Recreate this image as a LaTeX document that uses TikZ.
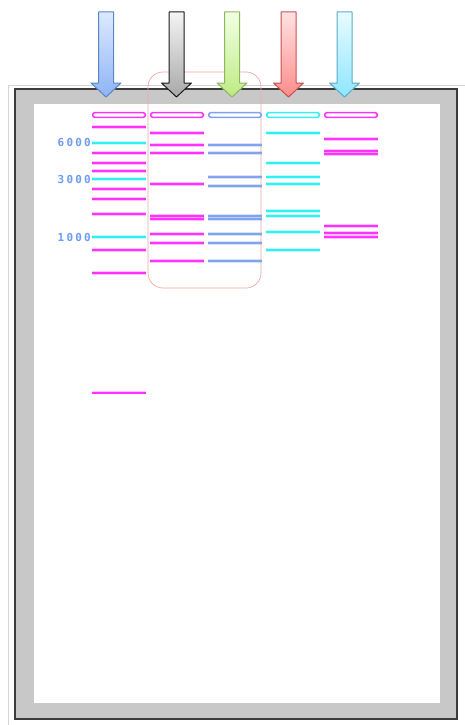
\documentclass[tikz,border=0pt]{standalone}
\usepackage{fontspec}
\newfontfamily\lblfont{DejaVu Sans Mono}
\definecolor{bandM}{HTML}{FF33FF}
\definecolor{bandC}{HTML}{33F0F0}
\definecolor{bandB}{HTML}{7FA3EE}
\definecolor{frameG}{HTML}{C8C8C8}
\definecolor{frameD}{HTML}{3C3C3C}
\definecolor{outerL}{HTML}{D4D4D4}
\definecolor{lblB}{HTML}{6E9CF0}
\definecolor{hilite}{HTML}{F0A8A8}
\definecolor{abT}{HTML}{DDE9FF}\definecolor{abB}{HTML}{8DB4F5}\definecolor{abD}{HTML}{5A86C8}
\definecolor{akT}{HTML}{F4F4F4}\definecolor{akB}{HTML}{A8A8A8}\definecolor{akD}{HTML}{1A1A1A}
\definecolor{agT}{HTML}{F2FFE4}\definecolor{agB}{HTML}{BDEB85}\definecolor{agD}{HTML}{8DB85A}
\definecolor{arT}{HTML}{FFE2E2}\definecolor{arB}{HTML}{FF8C8C}\definecolor{arD}{HTML}{C85050}
\definecolor{acT}{HTML}{E8FBFF}\definecolor{acB}{HTML}{8EE6FF}\definecolor{acD}{HTML}{5AAACB}
\newcommand\lsp{\kern2.2pt}
\newcommand\gelband[3]{%
  \draw[bandglow,draw=#3] (#1,#2) -- ++(54,0);
  \draw[bandcore,draw=#3] (#1,#2) -- ++(54,0);}
\newcommand\gelwell[2]{%
  \draw[wellbox,draw=#2] ({#1+0.8},112.6) rectangle ({#1+53.2},117.4);}
\newcommand\gelarrow[4]{%
  \shade[top color=#2,bottom color=#3,draw=#4,line width=1pt,line join=round]
    ({#1-7.5},12) -- ({#1+7.5},12) -- ({#1+7.5},83) -- ({#1+15},83) --
    (#1,97) -- ({#1-15},83) -- ({#1-7.5},83) -- cycle;}
\begin{document}
\begin{tikzpicture}[x=1pt,y=-1pt,
  bandglow/.style={line width=3.8pt,opacity=0.3},
  bandcore/.style={line width=2pt},
  wellbox/.style={line width=1.6pt,rounded corners=1.5pt,fill=white},
  sizelbl/.style={anchor=east,text=lblB,inner sep=0pt,font=\lblfont\bfseries\fontsize{11}{12}\selectfont}]
\useasboundingbox (0,0) rectangle (465,725);
% outer light line
\draw[outerL,line width=1pt] (8.5,725) -- (8.5,85.5) -- (465,85.5);
% gel frame
\fill[frameG] (15,89) rectangle (457,719);
\fill[white] (34,104) rectangle (440,703);
\draw[frameD,line width=1.5pt] (15,89) rectangle (457,719);
% highlight box
\draw[hilite,line width=0.7pt,rounded corners=15pt] (148,72) rectangle (261,288);
% arrows
\gelarrow{106}{abT}{abB}{abD}
\gelarrow{176.5}{akT}{akB}{akD}
\gelarrow{232}{agT}{agB}{agD}
\gelarrow{288.5}{arT}{arB}{arD}
\gelarrow{344.5}{acT}{acB}{acD}
% wells
\gelwell{92}{bandM}
\gelwell{150}{bandM}
\gelwell{208}{bandB}
\gelwell{266}{bandC}
\gelwell{324}{bandM}
% lane 1 (ladder)
\foreach \y/\c in {127/bandM,142.7/bandC,152.7/bandM,163/bandM,170.7/bandM,179/bandC,188.7/bandM,199.3/bandM,214.3/bandM,237/bandC,250.3/bandM,272.7/bandM,392.5/bandM}
  {\gelband{92}{\y}{\c}}
% lane 2
\foreach \y in {133,145,152.7,184.3,215.7,219,234,242.7,261}
  {\gelband{150}{\y}{bandM}}
% lane 3
\foreach \y in {145,152.7,176.7,185.7,215.7,219,234,242.7,261}
  {\gelband{208}{\y}{bandB}}
% lane 4
\foreach \y in {133,163.3,176.7,184.3,211,215.7,232.3,250.3}
  {\gelband{266}{\y}{bandC}}
% lane 5
\foreach \y in {139.3,150.7,154,226.3,233.3,236.7}
  {\gelband{324}{\y}{bandM}}
% size labels
\node[sizelbl] (l6000) at (91,142.7) {6\lsp0\lsp0\lsp0};
\node[sizelbl] (l3000) at (91,179) {3\lsp0\lsp0\lsp0};
\node[sizelbl] (l1000) at (91,237) {1\lsp0\lsp0\lsp0};
\end{tikzpicture}
\end{document}
